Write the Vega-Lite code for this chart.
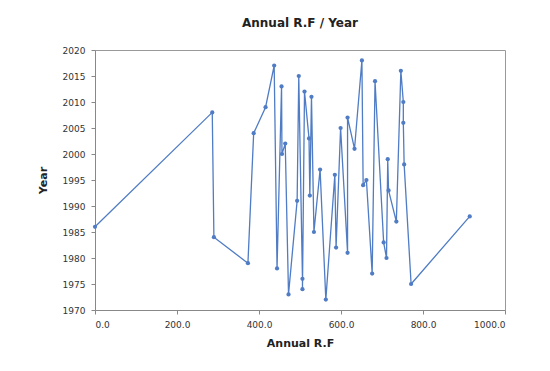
{
  "$schema": "https://vega.github.io/schema/vega-lite/v6.json",
  "autosize": "none",
  "width": 410,
  "height": 260,
  "padding": {"left": 95, "top": 50, "right": 45, "bottom": 61},
  "background": "white",
  "title": {"text": "Annual R.F / Year", "font": "DejaVu Sans", "fontSize": 12, "fontWeight": "bold", "color": "#222", "offset": 16, "anchor": "middle"},
  "config": {
    "view": {"stroke": "#999", "strokeWidth": 1},
    "axis": {"labelFont": "DejaVu Sans", "labelFontSize": 9, "labelColor": "#333", "titleFont": "DejaVu Sans", "titleFontSize": 11, "titleFontWeight": "bold", "titleColor": "#222", "grid": false, "domainColor": "#888", "tickColor": "#888"}
  },
  "data": {"values": [
    {"rf": 0, "year": 1986},
    {"rf": 286, "year": 2008},
    {"rf": 290, "year": 1984},
    {"rf": 373, "year": 1979},
    {"rf": 387, "year": 2004},
    {"rf": 416, "year": 2009},
    {"rf": 437, "year": 2017},
    {"rf": 444, "year": 1978},
    {"rf": 455, "year": 2013},
    {"rf": 456, "year": 2000},
    {"rf": 464, "year": 2002},
    {"rf": 472, "year": 1973},
    {"rf": 493, "year": 1991},
    {"rf": 497, "year": 2015},
    {"rf": 506, "year": 1976},
    {"rf": 506, "year": 1974},
    {"rf": 511, "year": 2012},
    {"rf": 522, "year": 2003},
    {"rf": 524, "year": 1992},
    {"rf": 528, "year": 2011},
    {"rf": 534, "year": 1985},
    {"rf": 549, "year": 1997},
    {"rf": 563, "year": 1972},
    {"rf": 585, "year": 1996},
    {"rf": 588, "year": 1982},
    {"rf": 599, "year": 2005},
    {"rf": 616, "year": 1981},
    {"rf": 616, "year": 2007},
    {"rf": 633, "year": 2001},
    {"rf": 651, "year": 2018},
    {"rf": 654, "year": 1994},
    {"rf": 662, "year": 1995},
    {"rf": 676, "year": 1977},
    {"rf": 683, "year": 2014},
    {"rf": 704, "year": 1983},
    {"rf": 711, "year": 1980},
    {"rf": 714, "year": 1999},
    {"rf": 716, "year": 1993},
    {"rf": 735, "year": 1987},
    {"rf": 746, "year": 2016},
    {"rf": 752, "year": 2010},
    {"rf": 752, "year": 2006},
    {"rf": 754, "year": 1998},
    {"rf": 771, "year": 1975},
    {"rf": 914, "year": 1988}
  ]},
  "encoding": {
    "x": {"field": "rf", "type": "quantitative", "title": "Annual R.F", "scale": {"domain": [0, 1000], "nice": false}, "axis": {"values": [0, 200, 400, 600, 800, 1000], "format": ".1f", "tickSize": 4, "labelPadding": 6, "titlePadding": 8}},
    "y": {"field": "year", "type": "quantitative", "title": "Year", "scale": {"domain": [1970, 2020], "nice": false, "zero": false}, "axis": {"values": [1970, 1975, 1980, 1985, 1990, 1995, 2000, 2005, 2010, 2015, 2020], "format": "d", "tickSize": 4, "labelPadding": 6, "titlePadding": 14}}
  },
  "layer": [
    {"mark": {"type": "line", "color": "#4f7cc4", "strokeWidth": 1.3}, "encoding": {"order": {"value": null}}},
    {"mark": {"type": "point", "filled": true, "color": "#4f7cc4", "size": 18, "opacity": 1}}
  ]
}
